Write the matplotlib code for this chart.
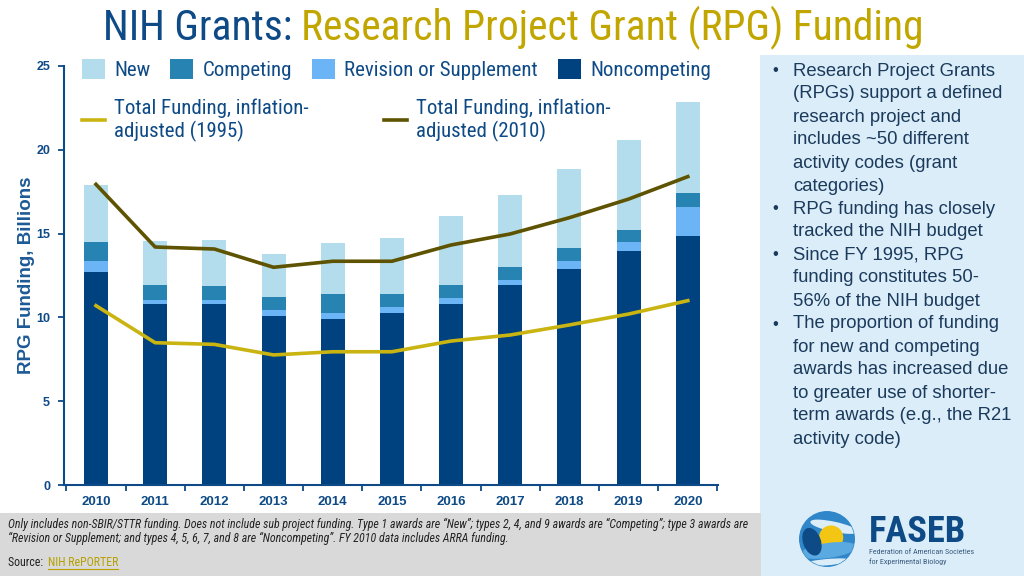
import matplotlib
matplotlib.use("Agg")
import matplotlib.pyplot as plt
from matplotlib.patches import Rectangle, Circle, Ellipse
import numpy as np

# ---------------- data ----------------
years = ["2010", "2011", "2012", "2013", "2014", "2015", "2016", "2017", "2018", "2019", "2020"]
noncompeting = [12.73, 10.78, 10.82, 10.06, 9.92, 10.28, 10.82, 11.95, 12.89, 13.96, 14.88]
revision = [0.63, 0.28, 0.22, 0.38, 0.34, 0.32, 0.34, 0.28, 0.49, 0.54, 1.71]
competing = [1.12, 0.87, 0.85, 0.80, 1.14, 0.80, 0.79, 0.80, 0.76, 0.71, 0.83]
new = [3.42, 2.65, 2.75, 2.52, 3.04, 3.34, 4.12, 4.27, 4.71, 5.37, 5.43]
adj_2010 = [17.94, 14.20, 14.08, 12.99, 13.35, 13.35, 14.32, 14.98, 15.95, 17.06, 18.40]
adj_1995 = [10.70, 8.49, 8.39, 7.76, 7.95, 7.95, 8.59, 8.95, 9.55, 10.20, 11.00]
yticks = [0, 5, 10, 15, 20, 25]

NAVY = "#0E4A86"
TXT = "#1B3A5C"
GOLD = "#C2A600"
C_NEW = "#B3DDED"
C_COMP = "#2784B2"
C_REV = "#6BB5F7"
C_NONC = "#00427F"
C_L1995 = "#C9B411"
C_L2010 = "#5E5300"
PANEL = "#DAEDF8"

NARROW = ["Roboto Condensed", "Archivo Narrow", "PT Sans Narrow", "Liberation Sans", "DejaVu Sans"]
BODY = ["Liberation Sans", "DejaVu Sans"]

W, H = 1024, 576
fig = plt.figure(figsize=(W / 100, H / 100), dpi=100)
fig.patch.set_facecolor("white")
renderer = fig.canvas.get_renderer()


def fx(px):
    return px / W


def fy(py):
    return 1 - py / H


def width_px(t):
    return t.get_window_extent(renderer=renderer).width


# background panels (drawn beneath every axes)
fig.patches.append(Rectangle((fx(760), 0), 1 - fx(760), fy(55), transform=fig.transFigure,
                             facecolor=PANEL, edgecolor="none", zorder=-2))
fig.patches.append(Rectangle((0, 0), fx(761), fy(513), transform=fig.transFigure,
                             facecolor="#D9D9D9", edgecolor="none", zorder=-2))

# ---------------- chart ----------------
ax = fig.add_axes([fx(64), fy(485), fx(718) - fx(64), fy(66) - fy(485)])
ax.set_facecolor("none")
x = np.arange(len(years))
bw = 0.405
b0 = np.zeros(len(years))
h_nonc = ax.bar(x, noncompeting, bw, bottom=b0, color=C_NONC, label="Noncompeting", zorder=2)
b1 = b0 + np.array(noncompeting)
h_rev = ax.bar(x, revision, bw, bottom=b1, color=C_REV, label="Revision or Supplement", zorder=2)
b2 = b1 + np.array(revision)
h_comp = ax.bar(x, competing, bw, bottom=b2, color=C_COMP, label="Competing", zorder=2)
b3 = b2 + np.array(competing)
h_new = ax.bar(x, new, bw, bottom=b3, color=C_NEW, label="New", zorder=2)

l95, = ax.plot(x, adj_1995, color=C_L1995, lw=2.6, zorder=3,
               label="Total Funding, inflation-\nadjusted (1995)")
l10, = ax.plot(x, adj_2010, color=C_L2010, lw=2.6, zorder=3,
               label="Total Funding, inflation-\nadjusted (2010)")

ax.set_xlim(-0.54, 10.51)
ax.set_ylim(0, 25)
ax.set_yticks(yticks)
ax.set_yticklabels([str(v) for v in yticks])
ax.set_xticks(np.arange(-0.5, 11, 1.0))
ax.set_xticklabels([])
ax.set_xticks(x, minor=True)
ax.set_xticklabels(years, minor=True)
ax.tick_params(axis="x", which="major", direction="out", length=4, width=1.3, color=NAVY)
ax.tick_params(axis="x", which="minor", length=0, pad=8, labelsize=9.5, labelcolor=NAVY)
ax.tick_params(axis="y", direction="out", length=4, width=1.3, color=NAVY,
               labelsize=9, labelcolor=NAVY, pad=6)
for lab in ax.get_xticklabels(minor=True) + ax.get_yticklabels():
    lab.set_fontweight("bold")
    lab.set_family(BODY)
for s in ["top", "right"]:
    ax.spines[s].set_visible(False)
for s in ["left", "bottom"]:
    ax.spines[s].set_color(NAVY)
    ax.spines[s].set_linewidth(1.5)

fig.text(fx(27), fy(275), "RPG Funding, Billions", rotation=90, ha="center", va="center",
         fontsize=13.5, fontweight="bold", color="#1D5A96", family=BODY)

# legends
LEG_FS = 15
leg1 = ax.legend(handles=[h_new, h_comp, h_rev, h_nonc], ncol=4, frameon=False,
                 loc="upper left", bbox_to_anchor=(fx(82), fy(59)), bbox_transform=fig.transFigure,
                 prop={"family": NARROW, "size": LEG_FS}, labelcolor=NAVY,
                 handlelength=1.1, handleheight=1.1, handletextpad=0.45,
                 columnspacing=0.95, borderpad=0, borderaxespad=0)
ax.add_artist(leg1)
leg2 = ax.legend(handles=[l95, l10], ncol=2, frameon=False,
                 loc="upper left", bbox_to_anchor=(fx(82), fy(98)), bbox_transform=fig.transFigure,
                 prop={"family": NARROW, "size": LEG_FS}, labelcolor=NAVY,
                 handlelength=1.1, handletextpad=0.45, columnspacing=3.6,
                 borderpad=0, borderaxespad=0, labelspacing=0.2)

# ---------------- title (fit to span x=103..923) ----------------
title_fs = 27
t1 = fig.text(fx(103), fy(40), "NIH Grants:", fontsize=title_fs, color=NAVY, family=NARROW,
              ha="left", va="baseline")
t2 = fig.text(0, fy(40), "Research Project Grant (RPG) Funding", fontsize=title_fs,
              color=GOLD, family=NARROW, ha="left", va="baseline")
gap = 0.3
total = width_px(t1) + width_px(t2) + gap * title_fs
scale = 820 / total
title_fs *= scale
t1.set_fontsize(title_fs)
t2.set_fontsize(title_fs)
t2.set_x(fx(103 + width_px(t1) + gap * title_fs))

# ---------------- side text ----------------
bullets = [
    ["Research Project Grants", "(RPGs) support a defined", "research project and",
     "includes ~50 different", "activity codes (grant", "categories)"],
    ["RPG funding has closely", "tracked the NIH budget"],
    ["Since FY 1995, RPG", "funding constitutes 50-", "56% of the NIH budget"],
    ["The proportion of funding", "for new and competing", "awards has increased due",
     "to greater use of shorter-", "term awards (e.g., the R21", "activity code)"],
]
side_texts = []
row = 0
for para in bullets:
    fig.text(fx(775), fy(71 + 23 * row), "\u2022", fontsize=12, color=TXT, family=BODY,
             ha="center", va="center")
    for line in para:
        side_texts.append(fig.text(fx(793), fy(71 + 23 * row), line, fontsize=12.3, color=TXT,
                                   family=BODY, ha="left", va="center"))
        row += 1
# fit "The proportion of funding" to span 793..1001
sfs = 12.3 * 208 / width_px(side_texts[11])
sfs = min(sfs, 13.5)
for t in side_texts:
    t.set_fontsize(sfs)

# ---------------- footer ----------------
f1 = fig.text(fx(8), fy(524), "Only includes non-SBIR/STTR funding. Does not include sub project funding. "
              "Type 1 awards are \u201cNew\u201d; types 2, 4, and 9 awards are \u201cCompeting\u201d; "
              "type 3 awards are", fontsize=8, style="italic", color="#222222", family=NARROW,
              ha="left", va="center")
f2 = fig.text(fx(8), fy(538), "\u201cRevision or Supplement; and types 4, 5, 6, 7, and 8 are "
              "\u201cNoncompeting\u201d. FY 2010 data includes ARRA funding.", fontsize=8,
              style="italic", color="#222222", family=NARROW, ha="left", va="center")
ffs = min(9.0, 8 * 742 / width_px(f1))
f1.set_fontsize(ffs)
f2.set_fontsize(ffs)
ts = fig.text(fx(8), fy(563), "Source: ", fontsize=ffs, color="#222222", family=NARROW,
              ha="left", va="center")
sx = 8 + width_px(ts) + 2
tn = fig.text(fx(sx), fy(563), "NIH RePORTER", fontsize=ffs, color="#B7A000",
              family=NARROW, ha="left", va="center")
fig.lines.append(plt.Line2D([fx(sx), fx(sx + width_px(tn))], [fy(569), fy(569)],
                            transform=fig.transFigure, color="#B7A000", lw=0.8))

# ---------------- logo ----------------
lax = fig.add_axes([fx(797), fy(569), fx(60), 1 - fy(60)])
lax.set_xlim(-1.1, 1.1)
lax.set_ylim(-1.1, 1.1)
lax.set_aspect("equal")
lax.axis("off")
base = Circle((0, 0), 1.0, color="#2F86C8")
lax.add_patch(base)
logo_parts = [
    Ellipse((0.25, 0.45), 1.7, 0.32, angle=-12, color=PANEL),
    Circle((0.15, 0.05), 0.42, color="#F3C613"),
    Ellipse((0.05, -0.42), 2.0, 0.5, angle=8, color="#5AA9E0"),
    Ellipse((-0.55, -0.1), 0.6, 1.0, angle=20, color="#0E4A86"),
    Ellipse((0.0, -0.85), 1.6, 0.18, angle=5, color=PANEL),
]
for p in logo_parts:
    lax.add_patch(p)
    p.set_clip_path(base)

fl = fig.text(fx(869), fy(542), "FASEB", fontsize=28, fontweight="bold", color="#0E4A86",
              family=NARROW, ha="left", va="baseline")
fl.set_fontsize(min(34, 28 * 97 / width_px(fl)))
fig.text(fx(869), fy(552), "Federation of American Societies", fontsize=5.8, color="#3A5A80",
         family=NARROW, ha="left", va="center")
fig.text(fx(869), fy(562), "for Experimental Biology", fontsize=5.8, color="#3A5A80",
         family=NARROW, ha="left", va="center")

fig.savefig("out.png", dpi=100)
